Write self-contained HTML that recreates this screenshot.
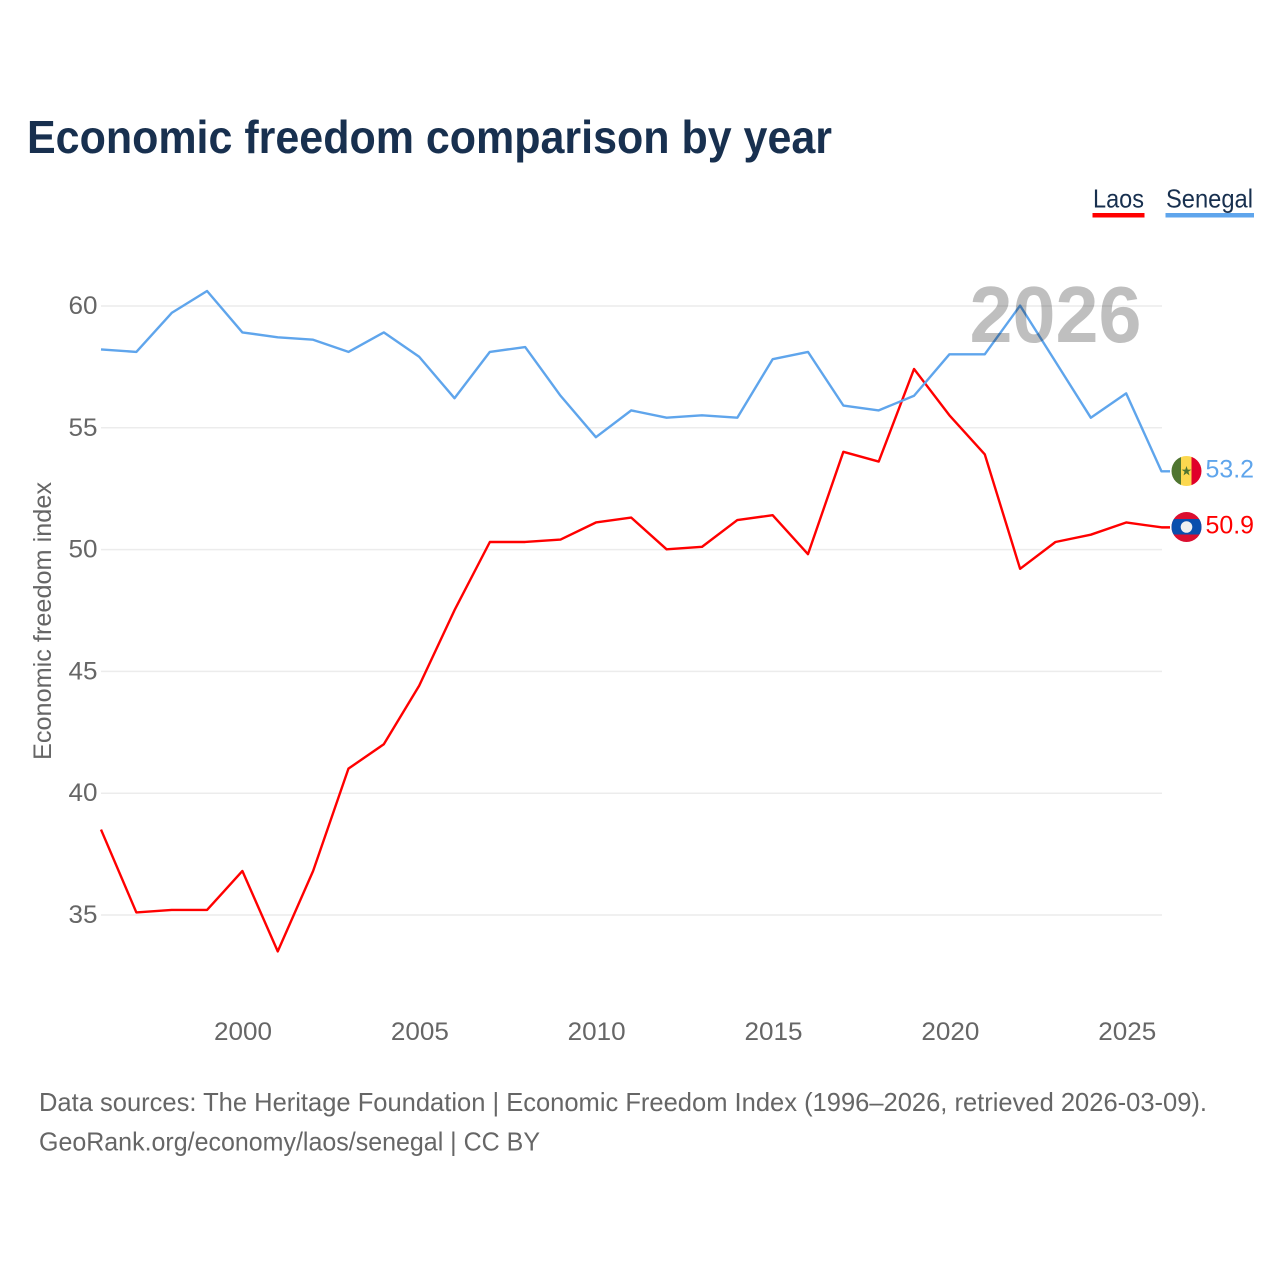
<!DOCTYPE html>
<html lang="en">
<head>
<meta charset="utf-8">
<title>Economic freedom comparison by year</title>
<style>
html,body{margin:0;padding:0;background:#fff;}
svg{display:block;font-family:"Liberation Sans",sans-serif;}
</style>
</head>
<body>
<svg id="chart" xmlns="http://www.w3.org/2000/svg" width="1280" height="1280" viewBox="0 0 1280 1280">
  <rect width="1280" height="1280" fill="#fff"/>
  <text x="27" y="153" font-size="46" font-weight="700" fill="#18304f" textLength="805" lengthAdjust="spacingAndGlyphs">Economic freedom comparison by year</text>

  <g>
    <g>
      <text x="1093" y="207.5" font-size="26" fill="#18304f" textLength="51" lengthAdjust="spacingAndGlyphs">Laos</text>
      <rect x="1092.5" y="213" width="52" height="4.5" fill="#ff0000"/>
    </g>
    <g>
      <text x="1166" y="207.5" font-size="26" fill="#18304f" textLength="87" lengthAdjust="spacingAndGlyphs">Senegal</text>
      <rect x="1165.5" y="213" width="88.5" height="4.5" fill="#5fa5ec"/>
    </g>
  </g>

  <g id="grid"></g>
  <g id="yticks"></g>
  <g id="xticks"></g>
  <text transform="translate(51,621) rotate(-90)" text-anchor="middle" font-size="25" fill="#666" textLength="278" lengthAdjust="spacingAndGlyphs">Economic freedom index</text>

  <g id="series"></g>

  <text x="1141.5" y="342" text-anchor="end" font-size="80" font-weight="700" fill="#000" fill-opacity="0.25" textLength="172" lengthAdjust="spacingAndGlyphs">2026</text>

  <defs>
    <clipPath id="flag-clip-sn"><circle cx="1186.5" cy="471" r="15"/></clipPath>
    <clipPath id="flag-clip-la"><circle cx="1186.5" cy="527" r="15"/></clipPath>
  </defs>
  <g id="flag-senegal">
    <g clip-path="url(#flag-clip-sn)">
      <rect x="1171" y="456" width="10.5" height="30" fill="#4f7530"/>
      <rect x="1181" y="456" width="10.5" height="30" fill="#fcd84f"/>
      <rect x="1191.5" y="456" width="10" height="30" fill="#e0002a"/>
      <polygon points="1186.5,466 1187.7,469.6 1191.4,469.6 1188.4,471.8 1189.5,475.4 1186.5,473.2 1183.5,475.4 1184.6,471.8 1181.6,469.6 1185.3,469.6" fill="#4f7530"/>
    </g>
  </g>
  <g id="flag-laos">
    <g clip-path="url(#flag-clip-la)">
      <rect x="1171" y="512" width="31" height="30" fill="#db0f30"/>
      <rect x="1171" y="519" width="31" height="15.5" fill="#0a4fad"/>
      <circle cx="1186.5" cy="527" r="5.8" fill="#f0f0f0"/>
    </g>
  </g>
  <g id="end-labels"></g>

  <g>
    <text x="39" y="1111" font-size="26" fill="#666" textLength="1168" lengthAdjust="spacingAndGlyphs">Data sources: The Heritage Foundation | Economic Freedom Index (1996–2026, retrieved 2026-03-09).</text>
    <text x="39" y="1150.5" font-size="26" fill="#666" textLength="501" lengthAdjust="spacingAndGlyphs">GeoRank.org/economy/laos/senegal | CC BY</text>
  </g>
</svg>
<script>
var startYear = 1996;
var yTickValues = [35, 40, 45, 50, 55, 60];
var xTickValues = [2000, 2005, 2010, 2015, 2020, 2025];
var laosValues = [38.5, 35.1, 35.2, 35.2, 36.8, 33.5, 36.8, 41.0, 42.0, 44.4, 47.5, 50.3, 50.3, 50.4, 51.1, 51.3, 50.0, 50.1, 51.2, 51.4, 49.8, 54.0, 53.6, 57.4, 55.5, 53.9, 49.2, 50.3, 50.6, 51.1, 50.9];
var senegalValues = [58.2, 58.1, 59.7, 60.6, 58.9, 58.7, 58.6, 58.1, 58.9, 57.9, 56.2, 58.1, 58.3, 56.3, 54.6, 55.7, 55.4, 55.5, 55.4, 57.8, 58.1, 55.9, 55.7, 56.3, 58.0, 58.0, 60.0, 57.7, 55.4, 56.4, 53.2];

var NS = 'http://www.w3.org/2000/svg';
function xScale(year) { return 101 + (year - 1996) * 35.35; }
function yScale(value) { return 305.6 + (60 - value) * 24.37; }
function tickY(value) { return 306 + (60 - value) * 24.36; }
function tickX(year) { return 101.5 + (year - 1996) * 35.37; }

function makeText(parent, x, y, size, fill, anchor, content) {
  var t = document.createElementNS(NS, 'text');
  t.setAttribute('x', x);
  t.setAttribute('y', y);
  t.setAttribute('font-size', size);
  t.setAttribute('fill', fill);
  t.setAttribute('text-anchor', anchor);
  t.textContent = content;
  parent.appendChild(t);
  return t;
}

var grid = document.getElementById('grid');
var yticks = document.getElementById('yticks');
yTickValues.forEach(function (v) {
  var line = document.createElementNS(NS, 'line');
  
  
  line.setAttribute('x1', 101);
  line.setAttribute('x2', 1162);
  line.setAttribute('y1', tickY(v));
  line.setAttribute('y2', tickY(v));
  line.setAttribute('stroke', '#ececec');
  line.setAttribute('stroke-width', 1.5);
  grid.appendChild(line);
  var label = makeText(yticks, 97.5, tickY(v) + 8, 25, '#666', 'end', String(v));
  
  
  label.setAttribute('textLength', 29);
  label.setAttribute('lengthAdjust', 'spacingAndGlyphs');
});

var xticks = document.getElementById('xticks');
xTickValues.forEach(function (year) {
  var label = makeText(xticks, tickX(year), 1040, 25, '#666', 'middle', String(year));
  
  
  label.setAttribute('textLength', 58);
  label.setAttribute('lengthAdjust', 'spacingAndGlyphs');
});

function drawSeries(values, color) {
  var pts = values.map(function (v, i) {
    return xScale(startYear + i).toFixed(2) + ',' + yScale(v).toFixed(2);
  });
  var last = values[values.length - 1];
  pts.push('1170,' + yScale(last).toFixed(2));
  var line = document.createElementNS(NS, 'polyline');
  line.setAttribute('fill', 'none');
  line.setAttribute('stroke', color);
  line.setAttribute('stroke-width', 2.4);
  line.setAttribute('stroke-linejoin', 'round');
  line.setAttribute('points', pts.join(' '));
  document.getElementById('series').appendChild(line);
  return line;
}

var laosLine = drawSeries(laosValues, '#ff0000');


var senegalLine = drawSeries(senegalValues, '#5fa5ec');



var endLabels = document.getElementById('end-labels');
var laosLast = laosValues[laosValues.length - 1];
var senegalLast = senegalValues[senegalValues.length - 1];
var laosLabel = makeText(endLabels, 1205.5, yScale(laosLast) + 6, 25, '#ff0000', 'start', laosLast.toFixed(1));


laosLabel.setAttribute('textLength', 48.5);
laosLabel.setAttribute('lengthAdjust', 'spacingAndGlyphs');
var senegalLabel = makeText(endLabels, 1205.5, yScale(senegalLast) + 6, 25, '#5fa5ec', 'start', senegalLast.toFixed(1));


senegalLabel.setAttribute('textLength', 48.5);
senegalLabel.setAttribute('lengthAdjust', 'spacingAndGlyphs');
</script>
</body>
</html>
